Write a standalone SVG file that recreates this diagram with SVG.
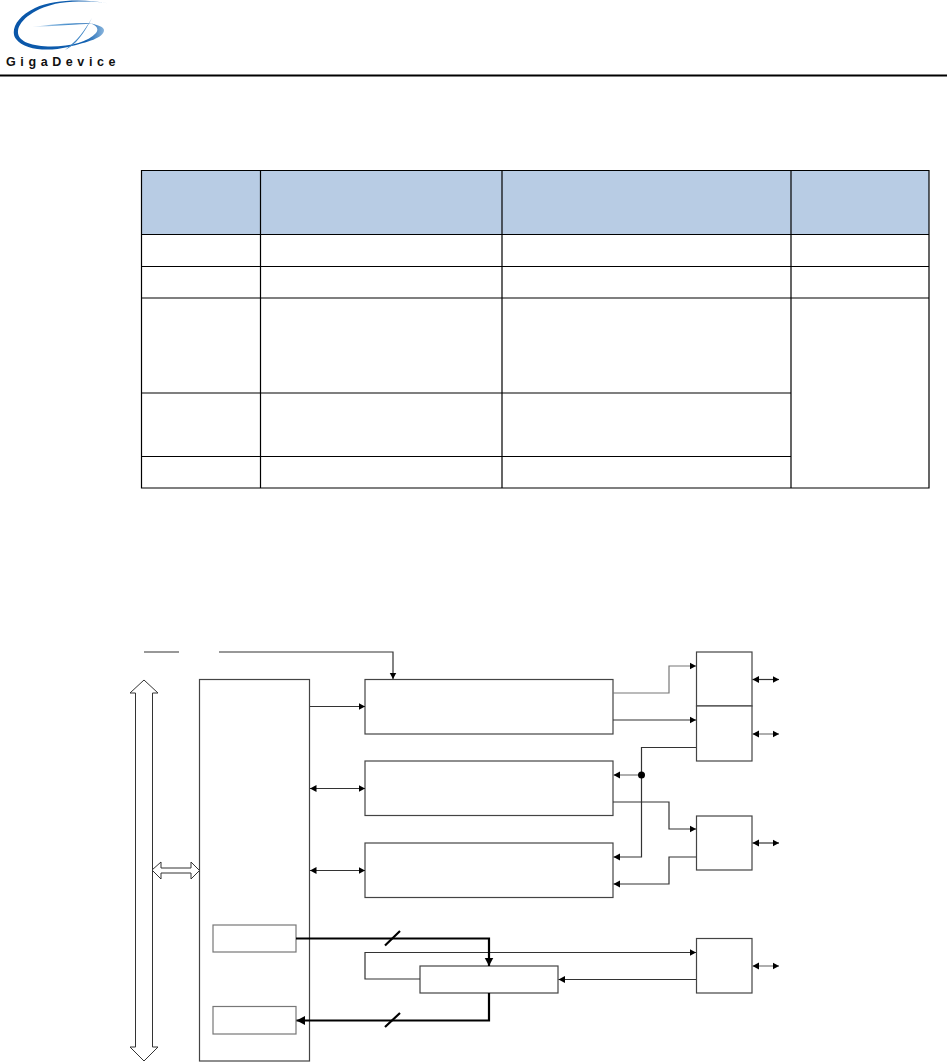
<svg xmlns="http://www.w3.org/2000/svg" width="947" height="1062" viewBox="0 0 947 1062">
<style>
.tb{fill:none;stroke:#000;stroke-width:1.2}
.b{fill:#fff;stroke:#444;stroke-width:1.2}
.c{fill:none;stroke:#333;stroke-width:1.2}
.k{fill:none;stroke:#000;stroke-width:2.2}
.o{fill:#fff;stroke:#333;stroke-width:1}
</style>
<defs>
<marker id="a" markerUnits="userSpaceOnUse" markerWidth="7" markerHeight="8" refX="6.500" refY="4" orient="auto-start-reverse"><path d="M0,0.500L6.500,4L0,7.500Z" fill="#000"/></marker>
<marker id="A" markerUnits="userSpaceOnUse" markerWidth="9" markerHeight="10" refX="8.500" refY="5" orient="auto-start-reverse"><path d="M0,0.500L8.500,5L0,9.500Z" fill="#000"/></marker>
<linearGradient id="g1" x1="0" y1="0" x2="1" y2="0"><stop offset="0" stop-color="#0a56a8"/><stop offset="0.75" stop-color="#0f5fb0"/><stop offset="1" stop-color="#a9cbe8"/></linearGradient>
<linearGradient id="g2" x1="0" y1="0" x2="1" y2="0"><stop offset="0" stop-color="#d5e6f5"/><stop offset="0.6" stop-color="#4a90cc"/><stop offset="1" stop-color="#0f5cab"/></linearGradient>
</defs>
<g id="logo">
<path d="M109,3.500C85,-1 55,-1 35,8C16,17 10,31 16,39C24,50 48,52 68,47C88,42 104,38 104,30C104,27 98,25 91,23.500C97,26 99,29 96,33C88,42 70,47 48,46.500C28,46 17,40 18,31C19,20 36,7 60,3C78,1 95,1 109,3.500Z" fill="url(#g1)"/>
<path d="M32,27C52,24 78,22.500 92,23.500C78,24.500 52,26 32,27Z" fill="url(#g2)"/>
<path d="M92,18C84,31 78,40 65,50C76,45 84,33 92,18Z" fill="#3f86c6"/>
<text x="6" y="65.500" font-family="'Liberation Sans',Arial,sans-serif" font-size="12.500" font-weight="bold" letter-spacing="4.600" fill="#111">GigaDevice</text>
</g>
<path id="header-rule" d="M0,75.500H947" fill="none" stroke="#000" stroke-width="2"/>
<g id="table">
<rect x="141.500" y="170.500" width="787.500" height="64" fill="#b8cce4"/>
<path class="tb" d="M141.500,170.500H929V488H141.500ZM260.500,170.500V488M502,170.500V488M791,170.500V488M141.500,234.500H929M141.500,266.500H929M141.500,298H929M141.500,393H791M141.500,456.500H791"/>
</g>
<g id="bus"><path class="o" d="M144,680L158,693H152.500V1047H158L144,1061L130,1047H135.500V693H130Z"/></g>
<g id="bus-link"><path class="o" d="M152,870L161,862V868H191V862L199.500,870.500L191,879V873H161V879Z"/></g>
<g id="mcu"><rect class="b" x="199.500" y="679.500" width="110" height="381.500"/></g>
<g id="reg-tx"><rect class="b" style="stroke:#777" x="213" y="925" width="83" height="27"/></g>
<g id="reg-rx"><rect class="b" style="stroke:#777" x="213" y="1006.500" width="83" height="27.500"/></g>
<g id="block-1"><rect class="b" x="365" y="679.500" width="248" height="54.500"/></g>
<g id="block-2"><rect class="b" x="365" y="761" width="248" height="54.500"/></g>
<g id="block-3"><rect class="b" x="365" y="843" width="248" height="54.500"/></g>
<g id="block-4"><rect class="b" x="420" y="966" width="138" height="27"/></g>
<g id="pin-1"><rect class="b" x="696.500" y="652" width="55.500" height="54"/></g>
<g id="pin-2"><rect class="b" x="696.500" y="706" width="55.500" height="55"/></g>
<g id="pin-3"><rect class="b" x="696.500" y="816" width="55.500" height="54"/></g>
<g id="pin-4"><rect class="b" x="696.500" y="938.500" width="55.500" height="54.500"/></g>
<g id="connectors">
<path class="c" d="M144,652H179M219,652H393V679" marker-end="url(#a)"/>
<path class="c" d="M310,706.500H365" marker-end="url(#a)"/>
<path class="c" d="M310,788.500H365" marker-start="url(#a)" marker-end="url(#a)"/>
<path class="c" d="M310,870.500H365" marker-start="url(#a)" marker-end="url(#a)"/>
<path class="c" style="stroke:#777" d="M613,693H669V666H696" marker-end="url(#a)"/>
<path class="c" d="M613,720H696" marker-end="url(#a)"/>
<path class="c" d="M696,747.500H641.500V857H613.500" marker-end="url(#a)"/>
<path class="c" style="stroke:#777" d="M641,775H613.500" marker-end="url(#a)"/>
<circle cx="641.500" cy="775" r="3.500" fill="#000"/>
<path class="c" d="M613,802H669V829H696" marker-end="url(#a)"/>
<path class="c" d="M696,857H669V884H613.500" marker-end="url(#a)"/>
<path class="c" d="M752.500,679.500H779" marker-start="url(#a)" marker-end="url(#a)"/>
<path class="c" style="stroke:#777" d="M752.500,734H779" marker-start="url(#a)" marker-end="url(#a)"/>
<path class="c" d="M752.500,843H779" marker-start="url(#a)" marker-end="url(#a)"/>
<path class="c" style="stroke:#777" d="M752.500,966H779" marker-start="url(#a)" marker-end="url(#a)"/>
<path class="c" d="M420,979H365V952.500H696" marker-end="url(#a)"/>
<path class="c" d="M696,979.500H558.500" marker-end="url(#a)"/>
<path class="k" d="M296,938.500H489V966" marker-end="url(#A)"/>
<path class="k" d="M489,993V1020.500H296.500" marker-end="url(#A)"/>
<path class="k" d="M385,945.500L400,931M385,1027L400,1013"/>
</g>
</svg>
